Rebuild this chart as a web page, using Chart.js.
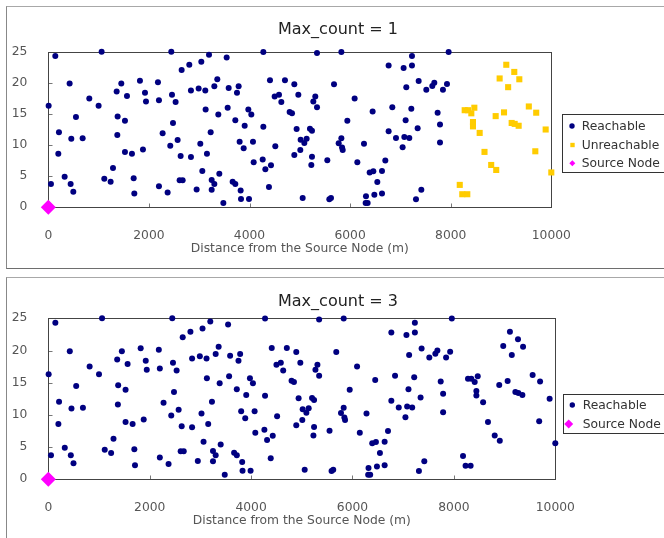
<!DOCTYPE html>
<html>
<head>
<meta charset="utf-8">
<script src="https://cdn.jsdelivr.net/npm/chart.js@4.4.1/dist/chart.umd.min.js"></script>
<style>
  html, body { margin: 0; padding: 0; background: #fff; }
  body { width: 664px; height: 538px; overflow: hidden; position: relative; }
  .frame {
    position: absolute; left: 6px; width: 664px; box-sizing: border-box;
    border: 1px solid; border-color: #a8a8a8 #888 #6e6e6e #888;
  }
  #f1 { top: 6px; height: 263px; }
  #f2 { top: 277px; height: 290px; }
  .box { position: absolute; left: 0; top: 0; width: 662px; }
</style>
</head>
<body>
<div class="frame" id="f1"><div class="box" style="height:261px"><canvas id="c1"></canvas></div></div>
<div class="frame" id="f2"><div class="box" style="height:262px"><canvas id="c2"></canvas></div></div>
<script>
// node positions: [distance (m), height]
const reachableNodes = [
  [7,16.3],[53,3.75],[139,24.3],[199,8.6],[212,12.05],[325,4.9],[424,19.9],[444,3.75],[457,11.0],[497,2.5],
  [550,14.5],[683,11.1],[815,17.5],[1000,16.3],[1060,25.0],[1113,4.6],[1239,4.1],[1286,6.3],[1359,18.6],[1372,11.6],
  [1378,14.6],[1451,19.9],[1524,13.9],[1524,8.9],[1564,17.9],[1663,8.6],[1697,4.66],[1710,2.2],[1822,20.35],[1882,9.3],
  [1922,18.4],[1942,17.0],[2180,20.1],[2200,17.2],[2200,3.4],[2273,11.9],[2372,2.36],[2425,9.9],[2445,25.0],[2459,18.1],
  [2479,13.55],[2531,16.9],[2571,10.8],[2611,4.34],[2631,8.25],[2651,22.07],[2671,4.34],[2803,22.9],[2836,18.75],[2836,8.1],
  [2949,2.84],[2989,19.1],[3022,10.2],[3042,23.4],[3062,5.84],[3121,18.75],[3128,15.7],[3154,8.6],
  [3195,24.5],[3228,12.05],[3248,4.4],[3248,2.8],[3301,19.44],[3301,3.75],[3360,20.57],[3380,14.9],[3400,5.4],[3480,0.7],
  [3546,24.05],[3566,16.0],[3586,19.17],[3665,4.12],[3718,14.0],[3718,3.75],[3751,18.4],[3784,19.44],[3804,10.55],[3824,2.68],
  [3831,1.34],[3884,9.48],[3904,13.1],[3977,15.7],[3990,1.34],[4036,14.9],[4069,10.55],[4083,7.23],[4262,7.7],[4275,24.96],
  [4275,12.96],[4315,6.1],[4387,3.27],[4407,20.4],[4427,6.75],[4500,17.8],[4513,9.8],[4586,18.1],[4633,16.9],[4705,20.4],
  [4798,15.3],[4845,15.1],[4891,19.76],[4891,8.4],[4937,12.6],[4971,18.1],[5010,9.2],[5017,10.87],[5057,1.5],[5090,10.34],
  [5136,11.03],[5202,12.64],[5229,6.8],[5242,12.3],[5242,8.14],[5269,17.0],[5308,17.8],[5342,24.8],[5342,16.07],[5547,7.55],
  [5587,1.29],[5620,1.5],[5680,19.76],[5773,10.3],[5826,24.96],[5826,11.1],[5840,9.6],[5853,9.2],[5945,13.9],[6090,17.5],
  [6144,7.23],[6276,10.2],[6309,0.7],[6316,1.77],[6349,0.7],[6389,5.6],[6448,15.4],[6462,5.8],[6482,2.0],
  [6541,4.07],[6634,5.84],[6634,2.2],[6700,7.5],[6766,22.8],[6766,12.2],[6839,16.07],[6912,11.14],[7044,9.64],[7064,22.4],
  [7078,11.3],[7104,14.0],[7117,19.3],[7177,11.14],[7217,15.85],[7230,24.3],[7230,22.8],[7310,1.29],[7343,12.7],[7363,20.3],
  [7416,2.8],[7515,18.9],[7634,19.5],[7674,20.0],[7740,15.2],[7787,13.3],[7787,10.4],[7846,18.9],[7926,19.8],[7959,24.96]
];
const unreachableNodes = [
  [8180,3.6],[8230,2.1],[8278,15.6],[8330,2.1],[8344,15.6],[8410,15.1],[8443,13.7],[8443,13.0],[8470,16.0],[8576,11.95],
  [8672,8.9],[8805,6.8],[8894,14.65],[8905,6.0],[8973,20.7],[9060,15.25],[9105,22.9],[9142,19.3],[9212,13.55],[9264,21.75],
  [9272,13.4],[9351,13.1],[9364,20.57],[9553,16.2],[9682,9.0],[9700,15.2],[9888,12.5],[10000,5.6]
];
const sourceNode = [[0, 0]];
// with Max_count = 3 every node is reached
const reachableNodes3 = reachableNodes.concat(unreachableNodes);

const distanceTicks = [0, 2000, 4000, 6000, 8000, 10000];
const heightTicks = [0, 5, 10, 15, 20, 25];

const FONT = "'DejaVu Sans', 'Liberation Sans', sans-serif";
const NAVY = "#000080", GOLD = "#ffcc00", MAGENTA = "#ff00ff";

function toPoints(list) {
  return list.map(([x, y]) => ({ x, y }));
}

const plotFrame = {
  id: "plotFrame",
  beforeDatasetsDraw(chart) {
    const { ctx, chartArea: a, scales } = chart;
    const L = Math.round(a.left) + 0.5, R = Math.round(a.right) + 0.5;
    const T = Math.round(a.top) + 0.5, B = Math.round(a.bottom) + 0.5;
    ctx.save();
    ctx.lineWidth = 1;
    ctx.strokeStyle = "#777";
    ctx.beginPath();
    distanceTicks.forEach((v) => {
      const px = Math.round(scales.x.getPixelForValue(v)) + 0.5;
      ctx.moveTo(px, B);
      ctx.lineTo(px, B - 4);
    });
    heightTicks.forEach((v) => {
      const py = Math.round(scales.y.getPixelForValue(v)) + 0.5;
      ctx.moveTo(L, py);
      ctx.lineTo(L + 4, py);
    });
    ctx.stroke();
    ctx.strokeStyle = "#444";
    ctx.strokeRect(L, T, R - L, B - T);
    ctx.restore();
  },
};

const legendBox = {
  id: "legendBox",
  afterDraw(chart, args, o) {
    const { ctx } = chart;
    ctx.save();
    ctx.lineWidth = 1;
    ctx.strokeStyle = "#333";
    ctx.strokeRect(o.left + 0.5, o.top + 0.5, 200, o.bottom - o.top);
    ctx.font = "12.3px " + FONT;
    ctx.textBaseline = "middle";
    chart.data.datasets.forEach((ds, i) => {
      const y = o.rows[i];
      ctx.fillStyle = ds.backgroundColor;
      Chart.helpers.drawPoint(ctx, { pointStyle: ds.pointStyle, radius: o.sizes[i], borderWidth: 0, rotation: 0 }, o.markerX[i], y);
      ctx.fillStyle = "#333";
      ctx.fillText(ds.label, o.textX, y + 0.5);
    });
    ctx.restore();
  },
};

function makeChart(id, cfg) {
  const datasets = cfg.series.map((s) => ({
    label: s.label,
    data: toPoints(s.nodes),
    pointStyle: s.style,
    pointRadius: s.radius,
    backgroundColor: s.color,
    borderWidth: 0,
    order: s.order,
    clip: false,
  }));

  return new Chart(document.getElementById(id), {
    type: "scatter",
    data: { datasets },
    options: {
      responsive: true,
      maintainAspectRatio: false,
      animation: false,
      events: [],
      layout: { padding: 0 },
      plugins: {
        legend: { display: false },
        tooltip: { enabled: false },
        title: {
          display: true,
          text: cfg.title,
          color: "#222",
          font: { family: FONT, size: 16, weight: "normal" },
          padding: cfg.titlePad,
        },
        legendBox: cfg.legend,
      },
      scales: {
        x: {
          type: "linear",
          position: "bottom",
          min: 0,
          max: 10000,
          grid: { display: false },
          border: { display: false },
          afterBuildTicks: (s) => { s.ticks = distanceTicks.map((v) => ({ value: v })); },
          ticks: {
            color: "#555",
            font: { family: FONT, size: 12.3 },
            padding: 12.9,
            maxRotation: 0,
            autoSkip: false,
            callback: (v) => String(v),
          },
          title: {
            display: true,
            text: "Distance from the Source Node (m)",
            color: "#555",
            font: { family: FONT, size: 12.3 },
            padding: { top: 0, bottom: 12.2 },
          },
          afterFit: (s) => { s.height = 60.7; },
        },
        y: {
          type: "linear",
          position: "left",
          min: 0,
          max: 25,
          grid: { display: false },
          border: { display: false },
          afterBuildTicks: (s) => { s.ticks = heightTicks.map((v) => ({ value: v })); },
          ticks: { color: "#555", font: { family: FONT, size: 12.3 }, padding: 13, callback: (v) => String(v) },
          afterFit: (s) => { s.width = 41.3; },
        },
        legendSpace: {
          type: "linear",
          position: "right",
          display: true,
          grid: { display: false },
          border: { display: false },
          ticks: { display: false },
          afterFit: (s) => { s.width = cfg.rightSpace; },
        },
      },
    },
    plugins: [plotFrame, legendBox],
  });
}

makeChart("c1", {
  title: "Max_count = 1",
  titlePad: { top: 13.4, bottom: 12.1 },
  rightSpace: 117.7,
  series: [
    { label: "Reachable", nodes: reachableNodes, style: "circle", radius: 3, color: NAVY, order: 2 },
    { label: "Unreachable", nodes: unreachableNodes, style: "rect", radius: 4.3, color: GOLD, order: 1 },
    { label: "Source Node", nodes: sourceNode, style: "rectRot", radius: 7.5, color: MAGENTA, order: 0 },
  ],
  legend: { left: 555, top: 107, bottom: 165, rows: [119, 138, 156.3], markerX: [565, 565.5, 565.3], sizes: [2.7, 3.1, 3], textX: 574.7 },
});

makeChart("c2", {
  title: "Max_count = 3",
  titlePad: { top: 14.1, bottom: 7.0 },
  rightSpace: 113.7,
  series: [
    { label: "Reachable", nodes: reachableNodes3, style: "circle", radius: 3, color: NAVY, order: 1 },
    { label: "Source Node", nodes: sourceNode, style: "rectRot", radius: 7.5, color: MAGENTA, order: 0 },
  ],
  legend: { left: 556, top: 116, bottom: 155, rows: [127, 146], markerX: [565.3, 561.7], sizes: [2.7, 4.5], textX: 575.7 },
});
</script>
</body>
</html>
